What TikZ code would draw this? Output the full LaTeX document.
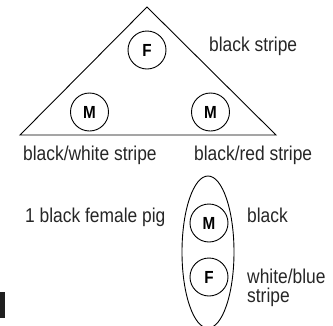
\documentclass[tikz,border=0pt]{standalone}
\usepackage{fontspec}
\setmainfont[FakeStretch=0.87]{Liberation Sans}
\usetikzlibrary{shapes.geometric}
\begin{document}
\begin{tikzpicture}[x=1pt,y=-1pt,
  lbl/.style={anchor=base west,inner sep=0pt,font=\fontsize{20}{19}\selectfont,text=black!85},
  pig/.style={circle,draw,line width=0.9pt,minimum size=38pt,inner sep=0pt,font=\fontsize{17.5}{17}\selectfont\bfseries},
  ln/.style={line width=0.9pt}]
\useasboundingbox (0,0) rectangle (333,325);
% triangle
\coordinate (ta) at (147,7);
\coordinate (tl) at (20,135);
\coordinate (tr) at (276,135);
\draw[ln,line join=miter] (ta) -- (tl) -- (tr) -- cycle;
\node[pig] (f1) at (147,50) {F};
\node[pig] (m1) at (89.5,112) {M};
\node[pig] (m2) at (210.5,112) {M};
\node[lbl] (t1) at (209,51) {black stripe};
\node[lbl] (t2) at (23,160) {black/white stripe};
\node[lbl] (t3) at (194,160) {black/red stripe};
% ellipse group
\node[ellipse,draw,ln,minimum width=52pt,minimum height=152pt,inner sep=0pt] (el) at (208,252) {};
\node[pig] (m3) at (209,223) {M};
\node[pig] (f2) at (209,277) {F};
\node[lbl] (t4) at (25,222) {1 black female pig};
\node[lbl] (t5) at (247,222) {black};
\node[lbl,align=left] (t6) at (247,302) {white/blue\\stripe};
% dark mark at left edge
\fill[black!88] (0,292) rectangle (5,318);
\end{tikzpicture}
\end{document}
